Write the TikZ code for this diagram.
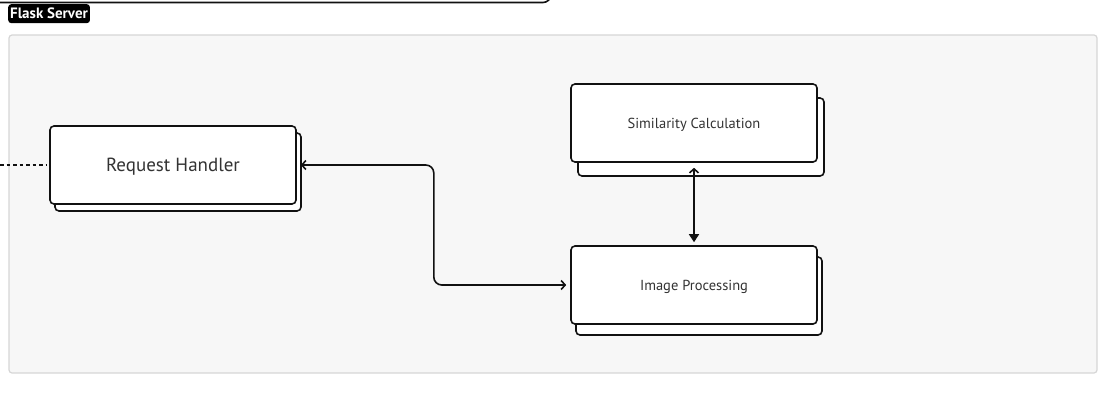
\documentclass[tikz,border=0pt]{standalone}
\usepackage{fontspec}
\setmainfont{PT Sans}
\usetikzlibrary{arrows.meta,shadows}
\definecolor{panelfill}{HTML}{F7F7F7}
\definecolor{panelline}{HTML}{D6D6D6}
\definecolor{inkline}{HTML}{111111}
\definecolor{inktext}{HTML}{333333}
\tikzset{
  every picture/.style={font={\fontsize{14.5}{17}\selectfont}, >={Straight Barb[length=4pt, width=9pt]}},
  every node/.style={text=inktext}}

\begin{document}
\begin{tikzpicture}[
    x=1pt, y=-1pt,
    panel/.style={
      draw=panelline,
      fill=panelfill,
      line width=1.2pt,
      rounded corners=3pt},
    tag/.style={
      fill=black,
      rounded corners=3pt,
      text=white,
      font={\fontsize{15}{17}\selectfont\bfseries},
      inner xsep=2pt,
      inner ysep=4pt},
    service/.style={
      draw=inkline,
      fill=white,
      line width=1.6pt,
      rounded corners=4pt,
      minimum width=246pt,
      minimum height=78pt,
      text depth=0pt},
    link/.style={
      draw=inkline,
      line width=1.6pt}]

    \useasboundingbox (0,0) rectangle (1107,404);

    % outer frame above, cut off
    \draw[link, rounded corners=8pt] (-5,2.5) -- (551,2.5) -- (551,-30);

    % server panel
    \draw[panel] (9,35) rectangle (1097,373);
    \node[tag, anchor=north west] (flask) at (8,4) {Flask Server};

    \node[service, copy shadow={shadow xshift=5pt, shadow yshift=-7pt, draw=inkline, line width=1.6pt},
      font={\fontsize{19}{22}\selectfont}] (handler) at (173,165) {Request Handler};
    \node[service, copy shadow={shadow xshift=7pt, shadow yshift=-14pt, draw=inkline, line width=1.6pt}]
      (similarity) at (694,123) {Similarity Calculation};
    \node[service, copy shadow={shadow xshift=5pt, shadow yshift=-11pt, draw=inkline, line width=1.6pt}]
      (imageproc) at (694,285) {Image Processing};

    \coordinate (client) at (0,165);

    \draw[link, dash pattern=on 3.5pt off 3pt, shorten >=3pt] (client) -- (handler.west);
    \draw[link, <->, rounded corners=8pt, shorten <=4pt, shorten >=4pt]
      (handler.east) -- ++(137,0) |- (imageproc.west);
    \draw[link, {Straight Barb[length=4pt, width=9pt]}-{Triangle[length=8pt, width=10pt]}, shorten <=5pt, shorten >=3pt]
      (similarity.south) -- (imageproc.north);
\end{tikzpicture}
\end{document}
